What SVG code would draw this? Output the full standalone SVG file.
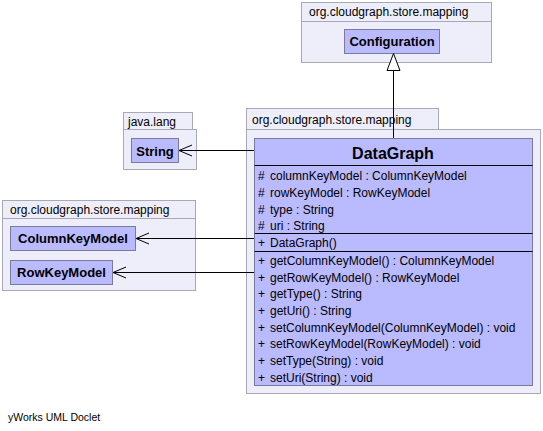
<svg xmlns="http://www.w3.org/2000/svg" width="543" height="431" viewBox="0 0 543 431">
<style>
.pkg{fill:#eeeefb;stroke:#a8a8b8;stroke-width:1}
.cls{fill:#babaff;stroke:#7a7a9c;stroke-width:1}
.sep{stroke:#000;stroke-width:1}
.lbl{font-family:"Liberation Sans",Arial,sans-serif;font-size:12px;fill:#000}
.bold{font-family:"Liberation Sans",Arial,sans-serif;font-size:13px;font-weight:bold;fill:#000}
.mem{font-family:"Liberation Sans",Arial,sans-serif;font-size:12px;fill:#000}
.edge{stroke:#000;stroke-width:1;fill:none}
</style>
<rect width="543" height="431" fill="#fff"/>
<g id="pkg-config">
<rect class="pkg" x="301.5" y="2.5" width="190" height="19"/>
<rect class="pkg" x="301.5" y="21.5" width="190" height="41"/>
<text class="lbl" x="309" y="16">org.cloudgraph.store.mapping</text>
</g>
<g id="pkg-javalang">
<rect class="pkg" x="123.5" y="112.5" width="69" height="17"/>
<rect class="pkg" x="123.5" y="129.5" width="73" height="40"/>
<text class="lbl" x="128" y="126">java.lang</text>
</g>
<g id="pkg-left">
<rect class="pkg" x="2.5" y="200.5" width="193" height="18"/>
<rect class="pkg" x="2.5" y="218.5" width="193" height="72"/>
<text class="lbl" x="10" y="214">org.cloudgraph.store.mapping</text>
</g>
<g id="pkg-main">
<rect class="pkg" x="246.5" y="108.5" width="192" height="21"/>
<rect class="pkg" x="246.5" y="129.5" width="294" height="264"/>
<text class="lbl" x="252" y="124">org.cloudgraph.store.mapping</text>
</g>
<g id="Configuration">
<rect class="cls" x="344.5" y="29.5" width="95" height="24"/>
<text class="bold" x="392" y="46" text-anchor="middle">Configuration</text>
</g>
<g id="String">
<rect class="cls" x="131.5" y="138.5" width="47" height="24"/>
<text class="bold" x="155" y="155.5" text-anchor="middle">String</text>
</g>
<g id="ColumnKeyModel">
<rect class="cls" x="10.5" y="226.5" width="125" height="24"/>
<text class="bold" x="73" y="243" text-anchor="middle">ColumnKeyModel</text>
</g>
<g id="RowKeyModel">
<rect class="cls" x="10.5" y="260.5" width="102" height="24"/>
<text class="bold" x="61.5" y="277" text-anchor="middle">RowKeyModel</text>
</g>
<g id="DataGraph">
<rect class="cls" x="254.5" y="138.5" width="278" height="247"/>
<line class="sep" x1="254.5" y1="165.5" x2="532.5" y2="165.5"/>
<line class="sep" x1="254.5" y1="233.5" x2="532.5" y2="233.5"/>
<line class="sep" x1="254.5" y1="251.5" x2="532.5" y2="251.5"/>
<text x="393" y="158.5" text-anchor="middle" font-family="Liberation Sans, Arial, sans-serif" font-size="16" font-weight="bold">DataGraph</text>
<g class="mem">
<text x="258" y="180">#</text><text x="270" y="180">columnKeyModel : ColumnKeyModel</text>
<text x="258" y="197">#</text><text x="270" y="197">rowKeyModel : RowKeyModel</text>
<text x="258" y="213.5">#</text><text x="270" y="213.5">type : String</text>
<text x="258" y="229.5">#</text><text x="270" y="229.5">uri : String</text>
<text x="258" y="247">+</text><text x="270" y="247">DataGraph()</text>
<text x="258" y="264.5">+</text><text x="270" y="264.5">getColumnKeyModel() : ColumnKeyModel</text>
<text x="258" y="281.5">+</text><text x="270" y="281.5">getRowKeyModel() : RowKeyModel</text>
<text x="258" y="298">+</text><text x="270" y="298">getType() : String</text>
<text x="258" y="314.5">+</text><text x="270" y="314.5">getUri() : String</text>
<text x="258" y="331.5">+</text><text x="270" y="331.5">setColumnKeyModel(ColumnKeyModel) : void</text>
<text x="258" y="348">+</text><text x="270" y="348">setRowKeyModel(RowKeyModel) : void</text>
<text x="258" y="365">+</text><text x="270" y="365">setType(String) : void</text>
<text x="258" y="381.5">+</text><text x="270" y="381.5">setUri(String) : void</text>
</g>
</g>
<g id="connectors">
<line class="edge" x1="393.5" y1="138" x2="393.5" y2="70"/>
<polygon points="393.5,53.5 387,70.5 400,70.5" fill="#fff" stroke="#000" stroke-width="1"/>
<line class="edge" x1="254" y1="150.5" x2="179" y2="150.5"/>
<polyline class="edge" points="192,145 179,150.5 192,156"/>
<line class="edge" x1="254" y1="238.5" x2="136" y2="238.5"/>
<polyline class="edge" points="149,233 136,238.5 149,244"/>
<line class="edge" x1="254" y1="272.5" x2="113" y2="272.5"/>
<polyline class="edge" points="126,267 113,272.5 126,278"/>
</g>
<text x="8" y="421" font-family="Liberation Sans, Arial, sans-serif" font-size="10.5">yWorks UML Doclet</text>
</svg>
